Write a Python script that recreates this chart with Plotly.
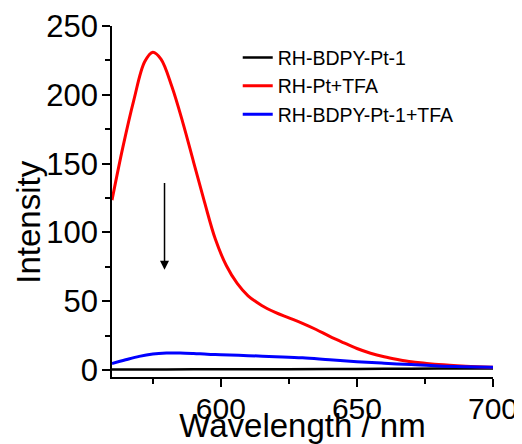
import plotly.graph_objects as go

# Wavelength grid (nm)
wl_red = [560, 564, 568, 572, 575, 578, 582, 586, 590, 594, 598, 602, 606, 610, 615,
          620, 625, 630, 635, 640, 645, 650, 655, 660, 665, 670, 675, 680, 690, 700]
red = [123.5, 162, 196, 224, 231, 226, 206, 180, 151, 122, 95, 76, 63, 54, 47,
       42, 38, 34, 29.5, 24.5, 20, 15.7, 12.3, 9.7, 7.7, 6, 5, 4, 2.8, 2]

wl_blue = [560, 565, 570, 575, 580, 585, 590, 595, 600, 610, 620, 630, 640, 650,
           660, 670, 680, 690, 700]
blue = [4.8, 7.5, 10, 11.7, 12.4, 12.5, 12.1, 11.5, 11.2, 10.5, 9.8, 9, 7.5, 6.1,
        5, 4, 3, 2.4, 2]

wl_black = [560, 580, 600, 620, 640, 660, 680, 700]
black = [0.4, 0.5, 0.6, 0.7, 0.8, 1.0, 1.1, 1.2]

names = ["RH-BDPY-Pt-1", "RH-Pt+TFA", "RH-BDPY-Pt-1+TFA"]

x_range = [560, 700]
y_range = [-5, 250]
x_tickvals = [600, 650, 700]
y_tickvals = [0, 50, 100, 150, 200, 250]

FONT = "Liberation Sans, Arial, sans-serif"

fig = go.Figure()
fig.add_trace(go.Scatter(x=wl_black, y=black, mode="lines", name=names[0],
                         line=dict(color="black", width=2.5, shape="spline")))
fig.add_trace(go.Scatter(x=wl_red, y=red, mode="lines", name=names[1],
                         line=dict(color="#ff0000", width=3, shape="spline")))
fig.add_trace(go.Scatter(x=wl_blue, y=blue, mode="lines", name=names[2],
                         line=dict(color="#0000ff", width=3, shape="spline")))

fig.add_annotation(x=579.3, y=73, ax=579.3, ay=137, xref="x", yref="y",
                   axref="x", ayref="y", text="", showarrow=True,
                   arrowhead=2, arrowsize=1.2, arrowwidth=1.5, arrowcolor="black")

# y-axis title (placed as text, slightly below the plot's centre as in the reference)
fig.add_annotation(text="Intensity", xref="paper", yref="paper",
                   x=-0.22, y=0.44, xanchor="center", yanchor="middle",
                   textangle=-90, showarrow=False, font=dict(size=33, family=FONT))

axis_common = dict(showgrid=False, zeroline=False, showline=True,
                   linecolor="black", linewidth=1.5, tickcolor="black",
                   tickwidth=1.5, automargin=False)

fig.update_layout(
    width=514, height=436,
    margin=dict(l=104, r=29, t=18, b=67),
    paper_bgcolor="white", plot_bgcolor="white",
    font=dict(family=FONT, color="black"),
    showlegend=True,
    legend=dict(x=0.33, y=0.965, xanchor="left", yanchor="top",
                bgcolor="rgba(0,0,0,0)", font=dict(size=19.5, family=FONT),
                tracegroupgap=0),
    xaxis=dict(range=x_range, tickvals=x_tickvals, ticks="outside", ticklen=8,
               tickfont=dict(size=30), ticklabelstandoff=-4,
               minor=dict(dtick=25, tick0=575,
               ticks="outside", ticklen=5, tickcolor="black", tickwidth=1.5),
               title=dict(text="Wavelength / nm", font=dict(size=33), standoff=2),
               **axis_common),
    yaxis=dict(range=y_range, tickvals=y_tickvals, ticks="outside", ticklen=8,
               tickfont=dict(size=31), ticklabelstandoff=-2,
               minor=dict(dtick=25, tick0=0,
               ticks="outside", ticklen=5, tickcolor="black", tickwidth=1.5),
               **axis_common),
    xaxis2=dict(range=x_range, overlaying="x", side="top", dtick=25, tick0=0,
                ticks="inside", ticklen=5, showticklabels=False, **axis_common),
    yaxis2=dict(range=y_range, overlaying="y", side="right", dtick=25, tick0=0,
                ticks="inside", ticklen=5, showticklabels=False, **axis_common),
)

fig.write_html("out.html")
